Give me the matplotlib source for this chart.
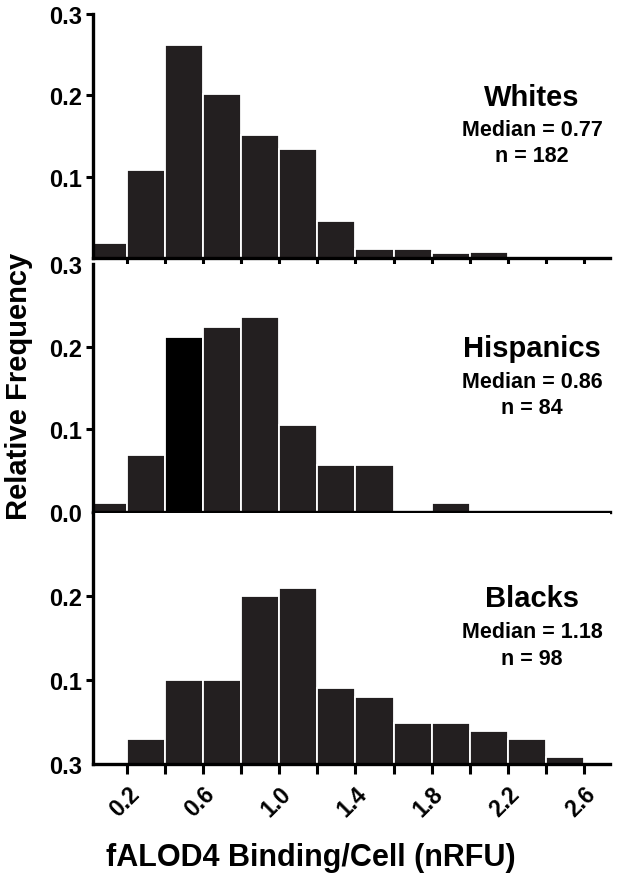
import matplotlib
matplotlib.use("Agg")
import matplotlib.pyplot as plt

plt.rcParams['font.family'] = ['Liberation Sans', 'DejaVu Sans']
plt.rcParams['font.weight'] = 'bold'

# histogram data (relative frequency per 0.2 bin)
bin_left = [0.0, 0.2, 0.4, 0.6, 0.8, 1.0, 1.2, 1.4, 1.6, 1.8, 2.0, 2.2, 2.4]
whites = [0.018, 0.108, 0.262, 0.201, 0.151, 0.134, 0.045, 0.011, 0.011, 0.006, 0.0075, 0.0, 0.0]
hispanics = [0.010, 0.069, 0.212, 0.224, 0.236, 0.105, 0.057, 0.057, 0.0, 0.010, 0.0, 0.0, 0.0]
blacks = [0.0, 0.029, 0.100, 0.100, 0.200, 0.210, 0.090, 0.080, 0.049, 0.049, 0.039, 0.029, 0.008]

groups = ['Whites', 'Hispanics', 'Blacks']
medians = ['0.77', '0.86', '1.18']
counts = ['182', '84', '98']

x_ticks = [0.2, 0.4, 0.6, 0.8, 1.0, 1.2, 1.4, 1.6, 1.8, 2.0, 2.2, 2.4, 2.6]
x_labels = ['0.2', '', '0.6', '', '1.0', '', '1.4', '', '1.8', '', '2.2', '', '2.6']

# y tick labels as printed on the original figure
y_ticks = [[0.1, 0.2, 0.3], [0.0, 0.1, 0.2, 0.3], [0.0, 0.1, 0.2]]
y_labels = [['0.1', '0.2', '0.3'], ['0.0', '0.1', '0.2', '0.3'], ['0.3', '0.1', '0.2']]
no_tick = [[], [0, 3], [0]]

bar_col = '#231f20'
fig = plt.figure(figsize=(6.17, 8.78), dpi=100)

# panel boxes [left, bottom, width, height]
boxes = [[0.151, 0.705, 0.838, 0.278],
         [0.151, 0.416, 0.838, 0.282],
         [0.151, 0.129, 0.838, 0.286]]

data = [whites, hispanics, blacks]

for i in range(3):
    ax = fig.add_axes(boxes[i])
    cols = [bar_col] * len(bin_left)
    if i == 1:
        cols[2] = '#000000'
    ax.bar(bin_left, data[i], width=0.2, align='edge', color=cols,
           edgecolor='white', linewidth=1.3, zorder=2)
    ax.set_xlim(0.02, 2.74)
    ax.set_ylim(0, 0.3)

    for s in ['top', 'right']:
        ax.spines[s].set_visible(False)
    for s in ['left', 'bottom']:
        ax.spines[s].set_linewidth(2.4)
        ax.spines[s].set_zorder(3)

    ax.set_xticks(x_ticks)
    if i == 2:
        ax.set_xticklabels(x_labels, rotation=45, ha='right', va='top',
                           rotation_mode='anchor', fontsize=16.5, fontweight='bold')
    else:
        ax.set_xticklabels([])
    ax.tick_params(axis='x', direction='out', length=7, width=2.2, pad=6)

    ax.set_yticks(y_ticks[i])
    ax.set_yticklabels(y_labels[i], fontsize=17, fontweight='bold')
    ax.tick_params(axis='y', direction='out', length=5, width=2.2, pad=3)
    for k in no_tick[i]:
        ax.yaxis.get_major_ticks()[k].tick1line.set_visible(False)

    ax.text(0.849, 0.66, groups[i], transform=ax.transAxes, ha='center',
            va='center', fontsize=21, fontweight='bold')
    ax.text(0.849, 0.525, 'Median = ' + medians[i], transform=ax.transAxes,
            ha='center', va='center', fontsize=15.5, fontweight='bold')
    ax.text(0.849, 0.42, 'n = ' + counts[i], transform=ax.transAxes,
            ha='center', va='center', fontsize=15.5, fontweight='bold')

fig.text(0.03, 0.56, 'Relative Frequency', rotation=90, ha='center',
         va='center', fontsize=21, fontweight='bold')
fig.text(0.503, 0.023, 'fALOD4 Binding/Cell (nRFU)', ha='center',
         va='center', fontsize=22, fontweight='bold')

fig.savefig('out.png', dpi=100)
